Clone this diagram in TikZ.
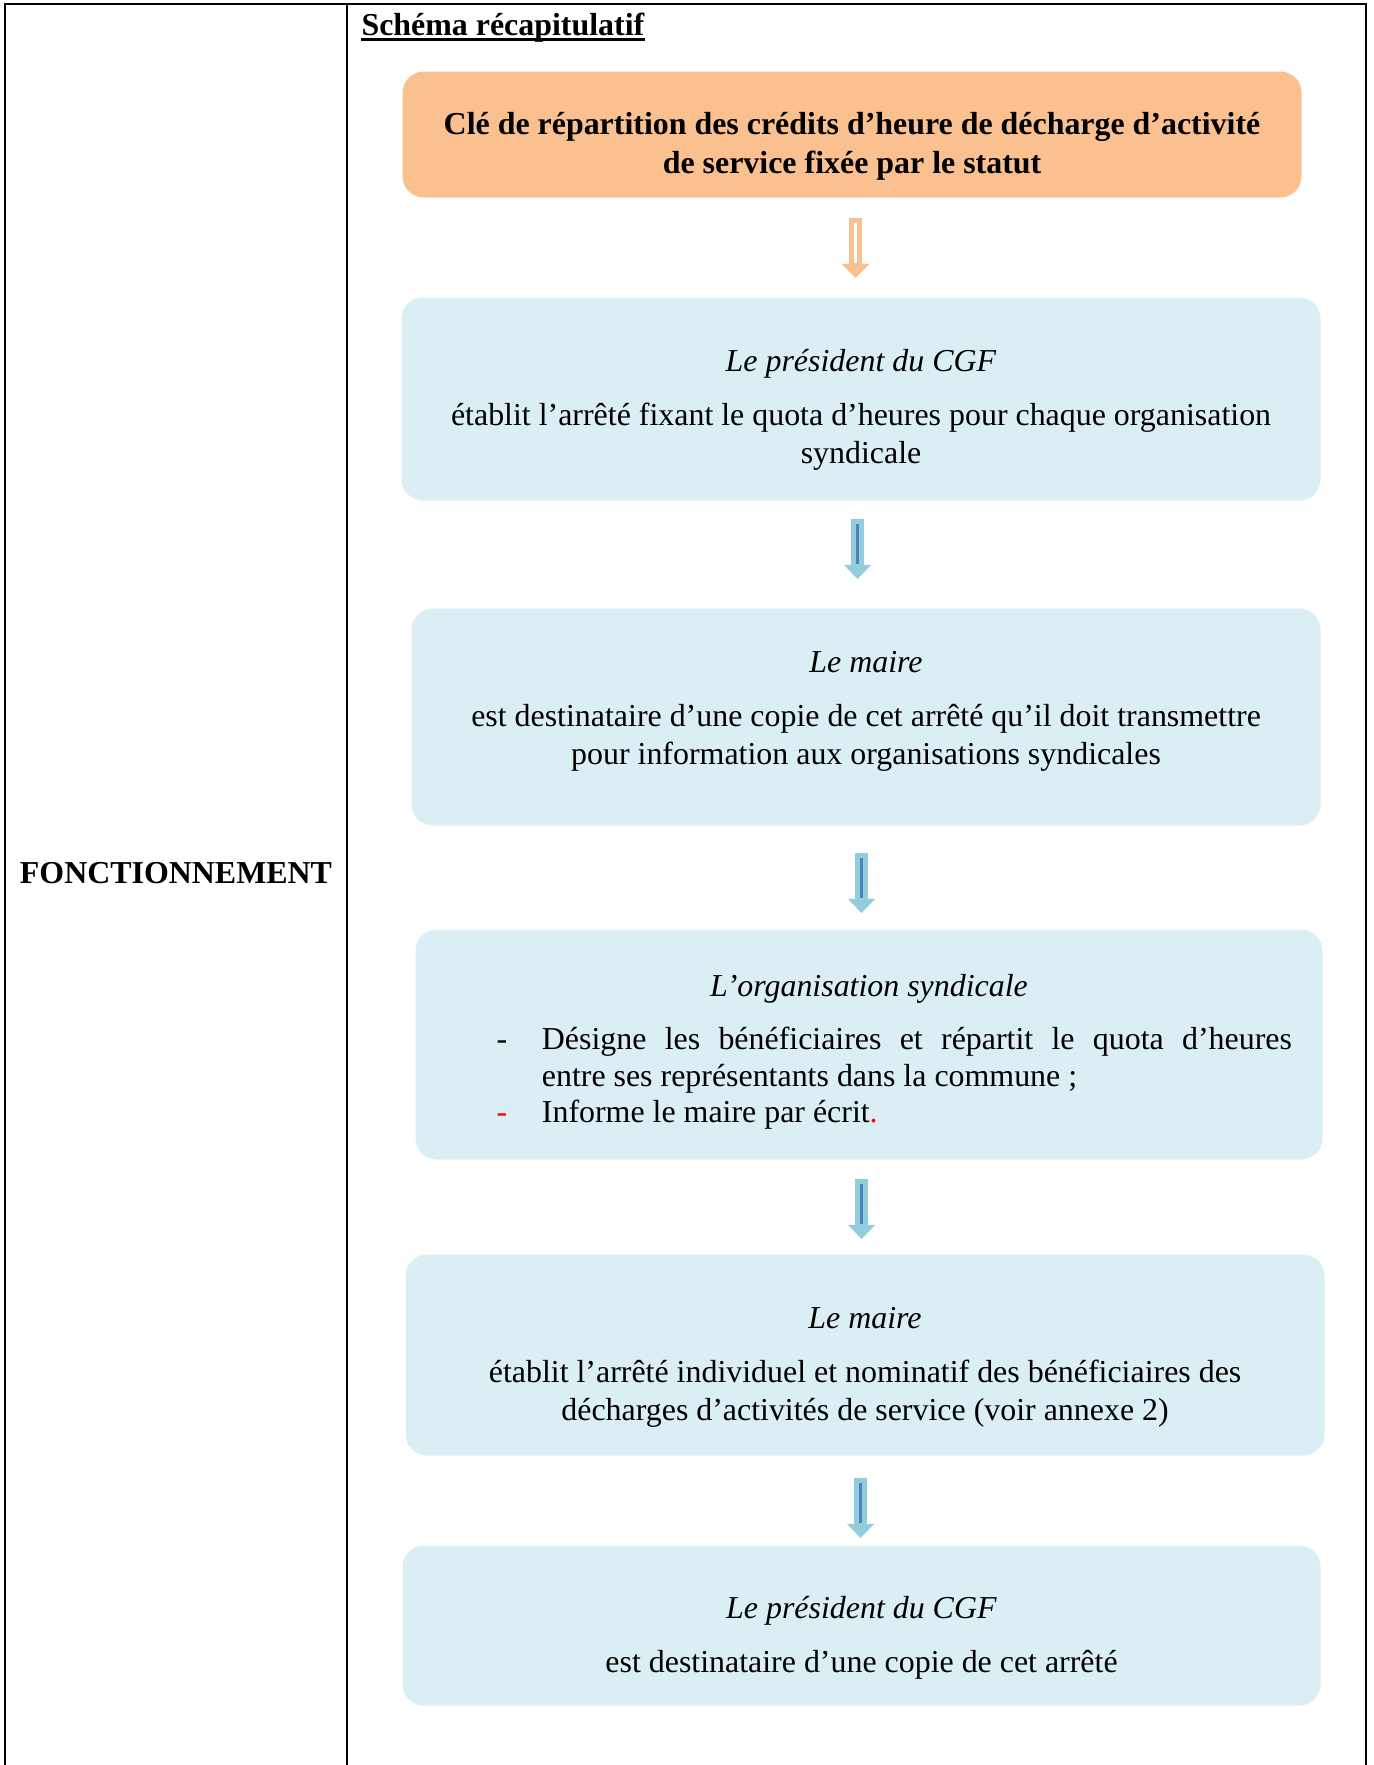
\documentclass[tikz,border=0pt]{standalone}
\usepackage{fontspec}
\setmainfont{Liberation Serif}
\usetikzlibrary{arrows.meta}

\definecolor{boxblue}{HTML}{DAEEF3}
\definecolor{boxorange}{HTML}{FAC090}
\definecolor{arrowblue}{HTML}{92CDDC}
\definecolor{arrowcore}{HTML}{4F81BD}
\definecolor{arroworange}{HTML}{FAC090}
\newcommand\pxu{0.376pt}

\begin{document}
\begin{tikzpicture}[
		x=\pxu, y=-\pxu,
		every node/.style={inner sep=0pt, font=\fontsize{12}{14.3}\selectfont},
		stepbox/.style={rounded corners=8pt, fill=boxblue, align=center, anchor=north west},
		keybox/.style={stepbox, fill=boxorange, font=\fontsize{12}{14.3}\selectfont\bfseries},
		flowarrow/.style={line width=4.6pt, draw=arrowblue, -{Triangle[width=9.8pt,length=5.3pt]}},
		keyarrow/.style={flowarrow, draw=arroworange, line width=5.2pt, -{Triangle[width=10.2pt,length=5.3pt]}},
		arrowline/.style={line width=0.8pt, draw=arrowcore},
	]
		\useasboundingbox (0,0) rectangle (1374,1765);
		% table frame
		\draw[line width=0.75pt] (5,1765) -- (5,4.5) -- (1366,4.5) -- (1366,1765);
		\draw[line width=0.75pt] (347,4.5) -- (347,1765);

		\node[anchor=base west, font=\fontsize{12}{14.3}\selectfont\bfseries] (titre) at (361,36) {Schéma récapitulatif};
		\draw[line width=1.1pt] ([yshift=-1.3pt]titre.base west) -- ([yshift=-1.3pt]titre.base east);
		\node[anchor=base, font=\fontsize{12}{14.3}\selectfont\bfseries] (fonct) at (176,883) {FONCTIONNEMENT};

		% boxes
		\node[keybox, minimum width=899*\pxu, minimum height=126*\pxu] (cle) at (402,71)
			{\rule{0pt}{17.2pt}Clé de répartition des crédits d’heure de décharge d’activité\\ de service fixée par le statut};
		\node[stepbox, minimum width=919*\pxu, minimum height=203*\pxu] (pres) at (401,297)
			{\rule{0pt}{16.5pt}\textit{Le président du CGF}\\[6pt] établit l’arrêté fixant le quota d’heures pour chaque organisation\\ syndicale};
		\node[stepbox, minimum width=909*\pxu, minimum height=217*\pxu] (maire) at (411,608)
			{\textit{Le maire}\\[6pt] est destinataire d’une copie de cet arrêté qu’il doit transmettre\\ pour information aux organisations syndicales\rule[-6.8pt]{0pt}{0pt}};
		\node[stepbox, minimum width=907*\pxu, minimum height=230*\pxu] (org) at (415,929)
			{\rule{0pt}{14pt}\textit{L’organisation syndicale}\\[7.7pt]
			\hspace*{19pt}\parbox{299pt}{\fontsize{12}{13.8}\selectfont\hangindent=17pt\hangafter=1\noindent\makebox[17pt][l]{-}Désigne les bénéficiaires et répartit le quota d’heures\linebreak entre ses représentants dans la commune~;\par
			\noindent\makebox[17pt][l]{\textcolor{red}{-}}Informe le maire par écrit\textcolor{red}{.}}};
		\node[stepbox, minimum width=919*\pxu, minimum height=201*\pxu] (arrete) at (405,1254)
			{\rule{0pt}{17.2pt}\textit{Le maire}\\[6pt] établit l’arrêté individuel et nominatif des bénéficiaires des\\ décharges d’activités de service (voir annexe 2)};
		\node[stepbox, minimum width=918*\pxu, minimum height=160*\pxu] (copie) at (402,1545)
			{\rule{0pt}{17.2pt}\textit{Le président du CGF}\\[6pt] est destinataire d’une copie de cet arrêté};

		% arrows
		\draw[keyarrow] (cle.south) ++(3.5,20) -- ++(0,60);
		\draw[white, line width=0.8pt] (cle.south) ++(3.5,25) -- ++(0,40);
		\draw[flowarrow] (pres.south) ++(-3.5,18) -- ++(0,60);
		\draw[arrowline] (pres.south) ++(-3.5,23) -- ++(0,40);
		\draw[flowarrow] (maire.south) ++(-4.5,27) -- ++(0,60);
		\draw[arrowline] (maire.south) ++(-4.5,32) -- ++(0,40);
		\draw[flowarrow] (org.south) ++(-7.5,19) -- ++(0,60);
		\draw[arrowline] (org.south) ++(-7.5,24) -- ++(0,40);
		\draw[flowarrow] (arrete.south) ++(-4.5,22) -- ++(0,60);
		\draw[arrowline] (arrete.south) ++(-4.5,27) -- ++(0,40);
\end{tikzpicture}
\end{document}
